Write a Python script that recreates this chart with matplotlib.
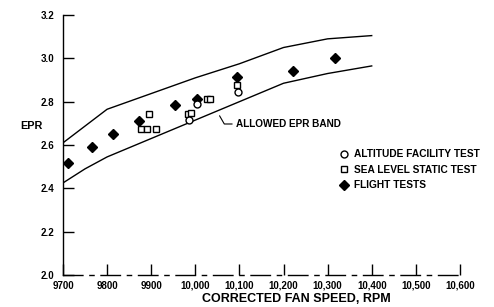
import numpy as np
import matplotlib.pyplot as plt

plt.rcParams['font.family'] = ['Liberation Sans', 'DejaVu Sans']
plt.rcParams['font.weight'] = 'bold'

# allowed EPR band
band_rpm_upper = [9700, 9800, 10000, 10100, 10200, 10300, 10400]
band_epr_upper = [2.61, 2.765, 2.91, 2.975, 3.05, 3.09, 3.105]
band_rpm_lower = [9700, 9750, 9800, 10100, 10200, 10300, 10400]
band_epr_lower = [2.425, 2.49, 2.545, 2.80, 2.885, 2.93, 2.965]

# test data
alt_rpm = [9985, 10005, 10096]
alt_epr = [2.715, 2.79, 2.845]

sls_rpm = [9878, 9890, 9910, 9895, 9983, 9990, 10026, 10034, 10095]
sls_epr = [2.674, 2.674, 2.674, 2.743, 2.745, 2.75, 2.812, 2.812, 2.877]

flt_rpm = [9712, 9766, 9813, 9872, 9954, 10003, 10094, 10222, 10317]
flt_epr = [2.518, 2.59, 2.65, 2.713, 2.785, 2.812, 2.915, 2.94, 3.0]

xticks = [9700, 9800, 9900, 10000, 10100, 10200, 10300, 10400, 10500, 10600]
xticklabels = ['9700', '9800', '9900', '10,000', '10,100', '10,200',
               '10,300', '10,400', '10,500', '10,600']
yticks = [2.0, 2.2, 2.4, 2.6, 2.8, 3.0, 3.2]

fig = plt.figure(figsize=(4.94, 3.07), dpi=100)
ax = fig.add_axes([0.1275, 0.1042, 0.8035, 0.8469])

ax.plot(band_rpm_upper, band_epr_upper, color='black', lw=1.0)
ax.plot(band_rpm_lower, band_epr_lower, color='black', lw=1.0)

ax.plot(flt_rpm, flt_epr, 'D', ms=5.5, color='black', label='FLIGHT TESTS', zorder=3)
ax.plot(sls_rpm, sls_epr, 's', ms=5, mfc='white', mec='black', mew=1.0,
        label='SEA LEVEL STATIC TEST', zorder=4)
ax.plot(alt_rpm, alt_epr, 'o', ms=5, mfc='white', mec='black', mew=1.0,
        label='ALTITUDE FACILITY TEST', zorder=4)

ax.annotate('ALLOWED EPR BAND', xy=(10055, 2.735), xytext=(10093, 2.697),
            fontsize=7.2, fontweight='bold', va='center', ha='left',
            arrowprops=dict(arrowstyle='-', color='black', lw=0.8,
                            connectionstyle='angle,angleA=0,angleB=-60,rad=0',
                            shrinkA=1, shrinkB=0))

ax.set_xlim(9700, 10600)
ax.set_ylim(2.0, 3.2)
ax.set_xticks(xticks)
ax.set_xticklabels(xticklabels)
ax.set_yticks(yticks)
ax.set_yticklabels(['%.1f' % v for v in yticks])
ax.tick_params(axis='both', direction='in', length=8, width=1.0, labelsize=7)
ax.tick_params(axis='x', pad=4)
ax.tick_params(axis='y', pad=6)

for s in ['top', 'right']:
    ax.spines[s].set_visible(False)
ax.spines['left'].set_linewidth(1.0)
ax.spines['bottom'].set_linewidth(1.0)
ax.spines['bottom'].set_linestyle((0, (14, 5, 3, 5)))

ax.set_xlabel('CORRECTED FAN SPEED, RPM', fontsize=9, fontweight='bold', va='center')
ax.xaxis.set_label_coords(0.587, -0.093)
ax.set_ylabel('EPR', fontsize=7.8, fontweight='bold', rotation=0, va='center')
ax.yaxis.set_label_coords(-0.08, 0.575)

handles, labels = ax.get_legend_handles_labels()
leg = ax.legend(handles[::-1], labels[::-1], loc='upper left',
                bbox_to_anchor=(0.685, 0.5), frameon=False, fontsize=7.3,
                handletextpad=0.5, labelspacing=0.55, handlelength=1.0,
                borderaxespad=0)

fig.savefig('out.png', dpi=100)
